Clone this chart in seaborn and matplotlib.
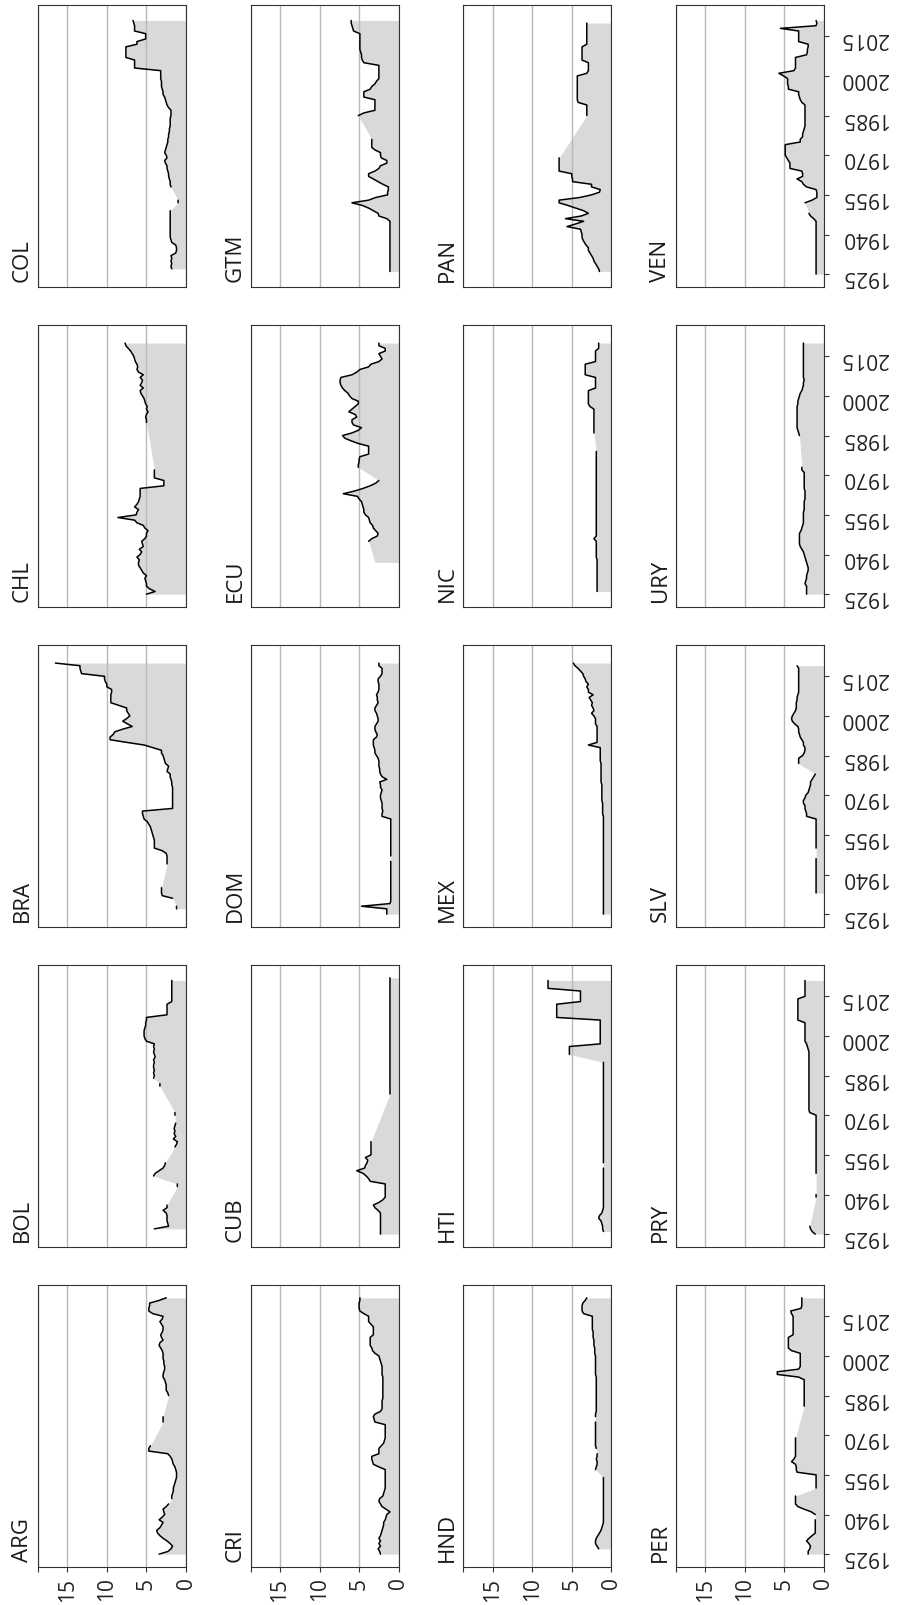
import numpy as np
import pandas as pd
import matplotlib
matplotlib.use("Agg")
import matplotlib.pyplot as plt
import seaborn as sns

# ---------------------------------------------
# data: one value per year 1925..2022 (N = no data)
# ---------------------------------------------
N = np.nan
years = list(range(1925, 2023))

arg = [3.4, 2.3, 1.9, 1.7, 2.0, 2.4, 2.9, 3.3, 3.6, 3.7,
       3.3, 3.1, 2.9, 3.4, 3.0, 2.7, 2.8, 2.9, 2.5, 2.2,
       N, 1.8, 1.8, 1.7, 1.6, 1.6, 1.5, 1.4, 1.3, 1.2,
       1.2, 1.2, 1.3, 1.4, 1.6, 1.7, 1.8, 2.0, 2.3, 4.7,
       4.7, 4.5, N, N, N, N, N, N, N, N,
       2.9, 2.9, 2.9, N, N, N, N, N, N, N,
       2.2, 2.3, 2.5, 2.5, 2.5, 2.6, 2.7, 2.9, 2.9, 2.8,
       2.7, 2.7, 2.8, 2.8, 2.9, 2.9, 2.9, 3.0, 3.2, 3.4,
       3.3, 2.9, 3.1, 3.2, 3.0, 2.9, 2.9, 3.1, 3.3, 3.0,
       2.9, 4.2, 4.7, 4.7, 4.6, 4.6, 3.4, 2.5]

bol = [N, N, 4.0, 2.2, 2.3, 2.4, 2.4, 2.4, 2.5, 2.9,
       2.4, 2.4, N, N, N, N, N, N, 1.1, 1.1,
       N, N, 4.1, 3.9, 3.4, 2.9, 2.7, 2.6, N, N,
       N, N, N, 1.4, 1.2, 1.1, 1.6, 1.3, 1.5, 1.4,
       1.5, 1.4, 1.3, N, N, 1.4, 1.4, N, N, N,
       N, N, N, N, N, N, 3.3, 3.3, N, 4.1,
       4.0, 4.1, 4.0, 4.1, 4.1, 4.0, 4.1, 3.9, 4.0, 4.1,
       4.0, 4.1, 4.0, 5.0, 5.2, 5.3, 5.3, 5.3, 5.2, 5.1,
       5.1, 5.0, 5.0, 2.4, 2.4, 2.4, 2.4, 2.4, 1.8, 1.8,
       1.8, 1.8, 1.8, 1.8, 1.8, 1.8, 1.8, N]

bra = [N, N, 1.2, 1.2, N, N, 1.7, 3.0, 3.1, 3.1,
       3.1, N, N, N, N, N, N, N, N, 2.4,
       2.4, 2.4, 2.4, 2.5, 3.0, 4.0, 4.0, 4.0, 4.0, 4.1,
       4.2, 4.3, 4.4, 4.5, 4.7, 4.9, 5.3, 5.4, 5.5, 5.5,
       1.7, 1.7, 1.7, 1.7, 1.7, 1.7, 1.7, 1.7, 1.7, 1.8,
       1.8, 1.9, 2.0, 2.0, 2.4, 2.3, 2.2, 2.6, 2.7, 2.8,
       2.9, 3.1, 3.1, 4.2, 5.3, 7.5, 9.6, 9.6, 9.2, 9.0,
       8.0, 6.8, 7.4, 8.0, 7.5, 7.1, 7.3, 7.5, 7.5, 8.5,
       9.5, 9.5, 9.5, 9.5, 9.4, 9.4, 10.0, 10.0, 10.2, 10.3,
       10.3, 13.2, 13.3, 13.4, 13.4, 16.5, N, N]

chl = [5.0, 3.9, 4.6, 5.0, 5.0, 5.1, 5.2, 5.0, 5.4, 5.6,
       5.8, 6.0, 6.0, 5.9, 6.2, 5.8, 5.6, 5.9, 5.4, 5.5,
       5.6, 5.2, 5.0, 5.0, 4.8, 5.2, 5.4, 6.2, 6.5, 8.6,
       6.3, 6.2, 6.0, 6.5, 6.2, 6.0, 5.9, 5.8, 5.8, 5.8,
       5.8, 2.8, 2.8, 2.8, 4.0, 4.0, 4.0, 4.0, N, N,
       N, N, N, N, N, N, N, N, N, N,
       N, N, N, N, N, 5.0, 5.0, 5.1, 5.0, 4.8,
       5.0, 4.9, 5.1, 5.2, 5.3, 5.5, 5.7, 5.8, 5.4, 5.8,
       5.6, 5.5, 5.8, 5.4, 6.0, 6.2, 6.1, 6.2, 6.4, 6.5,
       6.6, 6.8, 7.0, 7.3, 7.6, 7.7, N, N]

col = [N, N, 1.8, 1.9, 1.8, 1.9, 1.8, 1.9, 1.3, 1.2,
       1.2, 1.3, 1.8, 1.9, 2.0, 2.0, 2.0, 2.0, 2.0, 2.0,
       2.0, 2.0, 2.0, 2.0, 2.0, N, N, 1.0, 1.0, N,
       N, N, N, 1.9, 2.0, 2.0, 2.1, 2.2, 2.2, 2.3,
       2.4, 2.4, 2.6, 2.7, 2.4, 2.5, 2.7, 2.6, 2.5, 2.4,
       2.3, 2.3, 2.2, 2.2, 2.1, 2.1, 2.0, 2.0, 2.0, 2.0,
       1.9, 1.9, 1.9, 2.2, 2.4, 2.5, 2.6, 2.7, 2.9, 2.9,
       3.0, 3.1, 3.1, 3.1, 3.2, 3.2, 3.2, 3.2, 6.5, 6.5,
       6.5, 6.5, 7.6, 7.6, 7.6, 7.6, 7.6, 6.2, 6.2, 5.1,
       5.1, 5.1, 6.5, 6.5, 6.5, 6.6, 6.7, N]

cri = [2.3, 2.4, 2.6, 2.3, 2.5, 2.3, 2.5, 2.3, 2.2, 2.1,
       2.0, 1.9, 1.9, 1.7, 1.6, 1.5, 1.1, 1.6, 2.1, 2.3,
       2.5, 2.4, 2.0, 1.9, 1.8, 1.7, 1.7, 1.7, 1.7, 1.7,
       1.7, 1.7, 1.7, 2.5, 3.2, 3.3, 3.4, 3.4, 2.5, 2.5,
       2.5, 2.2, 1.9, 1.8, 1.7, 1.7, 1.7, 1.7, 1.7, 1.7,
       3.0, 3.1, 3.2, 3.0, 2.3, 2.1, 2.1, 2.1, 2.1, 2.0,
       2.0, 2.0, 2.0, 2.0, 2.0, 2.0, 2.0, 2.0, 2.1, 2.1,
       2.1, 2.1, 2.2, 2.3, 2.4, 2.5, 3.0, 3.3, 3.4, 3.6,
       3.6, 3.6, 3.6, 3.2, 3.2, 3.2, 3.2, 3.5, 3.8, 3.8,
       3.8, 4.4, 4.9, 5.0, 5.0, 5.0, 4.9, 4.9]

cub = [2.3, 2.3, 2.3, 2.3, 2.3, 2.3, 2.3, 2.3, 2.3, 2.6,
       3.0, 3.2, 2.5, 2.0, 1.7, 1.7, 1.7, 1.7, 1.7, 1.7,
       3.6, 3.8, 4.1, 4.5, 5.3, 4.3, 4.2, 4.0, 3.9, 4.2,
       3.5, 3.5, 3.5, 3.5, 3.5, 3.5, N, N, N, N,
       N, N, N, N, N, N, N, N, N, N,
       N, N, N, 1.1, 1.1, 1.1, 1.1, 1.1, 1.1, 1.1,
       1.1, 1.1, 1.1, 1.1, 1.1, 1.1, 1.1, 1.1, 1.1, 1.1,
       1.1, 1.1, 1.1, 1.1, 1.1, 1.1, 1.1, 1.1, 1.1, 1.1,
       1.1, 1.1, 1.1, 1.1, 1.1, 1.1, 1.1, 1.1, 1.1, 1.1,
       1.1, 1.1, 1.1, 1.1, 1.1, 1.1, 1.1, 1.1]

dom = [1.5, 1.5, 1.5, 4.7, 1.1, 1.0, 1.0, 1.0, 1.0, 1.0,
       1.0, 1.0, 1.0, 1.0, 1.0, 1.0, 1.0, 1.0, 1.0, 1.0,
       1.0, N, 1.0, 1.0, 1.0, 1.0, 1.0, 1.0, 1.0, 1.0,
       1.0, 1.0, 1.0, 1.0, 1.0, 1.0, 1.0, 2.1, 2.1, 2.0,
       2.1, 2.1, 2.1, 2.2, 2.3, 2.3, 2.2, 2.1, 2.3, 2.3,
       2.4, 1.5, 2.1, 2.3, 2.4, 2.4, 2.5, 2.5, 2.5, 2.6,
       2.8, 3.0, 3.0, 3.1, 3.2, 3.2, 3.2, 2.8, 2.7, 2.9,
       3.0, 3.0, 2.8, 2.6, 2.6, 2.7, 2.8, 3.0, 3.0, 2.8,
       2.6, 2.7, 2.7, 2.8, 2.6, 2.5, 2.5, 2.5, 2.6, 2.6,
       2.3, 2.1, 2.1, 2.1, 2.5, 2.5, N, N]

ecu = [N, N, N, N, N, N, N, N, N, N,
       N, N, 3.0, N, N, N, N, N, N, N,
       3.8, 3.4, 2.7, 2.6, 2.9, 3.2, 3.3, 3.6, 3.7, 3.8,
       4.2, 4.4, 4.4, 4.5, 4.6, 4.7, 5.0, 5.2, 7.0, 5.6,
       4.5, 3.6, 2.9, 2.5, N, N, N, N, 5.1, 5.1,
       5.0, 5.0, 4.9, 3.8, 3.8, 3.8, 3.8, 5.1, 6.0, 6.8,
       7.1, 5.9, 5.1, 4.7, 5.7, 5.9, 5.9, 5.3, 5.5, 6.3,
       5.9, 5.5, 5.1, 5.1, 5.9, 6.2, 6.4, 6.8, 7.1, 7.3,
       7.4, 7.4, 7.3, 5.9, 5.3, 4.9, 3.8, 3.5, 2.5, 2.1,
       2.3, 2.5, 1.7, 1.7, 2.5, 2.5, N, N]

gtm = [N, 1.1, 1.1, 1.1, 1.1, 1.1, 1.1, 1.1, 1.1, 1.1,
       1.1, 1.1, 1.1, 1.1, 1.1, 1.1, 1.1, 1.1, 1.1, 1.1,
       1.1, 1.5, 2.5, 2.6, 3.2, 3.8, 4.6, 5.9, 3.8, 2.9,
       1.4, 1.4, 1.3, 1.3, 2.0, 2.6, 3.2, 3.8, 3.8, 3.0,
       2.5, 2.3, 1.5, 1.5, 2.2, 2.3, 2.3, 3.0, 3.4, 3.4,
       3.4, 3.4, N, N, N, N, N, N, N, N,
       5.1, 4.4, 3.0, 3.0, 3.0, 3.0, 3.0, 4.4, 4.4, 4.4,
       3.6, 3.4, 3.0, 2.8, 2.5, 2.5, 2.5, 2.5, 2.5, 2.5,
       4.4, 4.6, 4.7, 4.7, 4.8, 4.9, 4.9, 4.9, 4.9, 4.9,
       4.9, 4.9, 5.7, 5.8, 5.9, 6.0, 6.0, N]

hnd = [N, N, 1.6, 1.8, 2.0, 2.0, 1.9, 1.7, 1.5, 1.3,
       1.2, 1.1, 1.0, 1.0, 1.0, 1.0, 1.0, 1.0, 1.0, 1.0,
       1.0, 1.0, 1.0, 1.0, 1.0, 1.0, 1.0, 1.0, 1.0, 1.0,
       N, N, 2.0, 1.9, 1.8, 1.8, 1.9, 1.8, 1.8, N,
       1.9, 2.0, 2.0, 2.0, 2.0, 2.0, 2.0, 2.0, 2.0, 2.0,
       2.0, N, 2.0, 2.0, 1.9, 1.9, 1.9, 1.9, 1.9, 1.9,
       1.9, 1.9, 1.9, 1.9, 1.9, 1.9, 1.9, 1.9, 2.0, 2.0,
       2.0, 2.0, 2.0, 2.0, 2.0, 2.0, 2.1, 2.1, 2.1, 2.2,
       2.2, 2.2, 2.3, 2.3, 2.3, 2.4, 2.4, 2.4, 2.4, 2.4,
       2.4, 3.5, 3.7, 3.7, 3.7, 3.6, 3.3, 3.1]

hti = [N, 1.0, 1.1, 1.1, 1.2, 1.3, 1.6, 1.5, 1.2, 1.1,
       1.0, 1.0, 1.0, 1.0, 1.0, 1.0, 1.0, 1.0, 1.0, 1.0,
       1.0, 1.0, 1.0, 1.0, 1.0, 1.0, N, 1.0, 1.0, 1.0,
       1.0, 1.0, 1.0, 1.0, 1.0, 1.0, 1.0, 1.0, 1.0, 1.0,
       1.0, 1.0, 1.0, 1.0, 1.0, 1.0, 1.0, 1.0, 1.0, 1.0,
       1.0, 1.0, 1.0, 1.0, 1.0, 1.0, 1.0, 1.0, 1.0, 1.0,
       1.0, 1.0, 1.0, 1.0, 1.0, 1.0, N, N, 5.3, 5.3,
       5.3, 5.3, 1.4, 1.4, 1.4, 1.4, 1.4, 1.4, 1.4, 1.4,
       1.4, 1.4, 6.9, 6.9, 6.9, 6.9, 6.9, 6.9, 3.9, 3.9,
       3.9, 3.9, 3.9, 8.0, 8.0, 8.0, 8.0, N]

mex = [1.0, 1.0, 1.0, 1.0, 1.0, 1.0, 1.0, 1.0, 1.0, 1.0,
       1.0, 1.0, 1.0, 1.0, 1.0, 1.0, 1.0, 1.0, 1.0, 1.0,
       1.0, 1.0, 1.0, 1.0, 1.0, 1.0, 1.0, 1.0, 1.0, 1.0,
       1.0, 1.0, 1.0, 1.0, 1.0, 1.0, 1.0, 1.0, 1.1, 1.1,
       1.1, 1.1, 1.1, 1.2, 1.2, 1.2, 1.2, 1.2, 1.2, 1.2,
       1.3, 1.3, 1.3, 1.3, 1.3, 1.3, 1.3, 1.3, 1.4, 1.4,
       1.4, 1.4, 1.4, 1.4, 2.9, 1.8, 1.8, 1.8, 1.8, 1.8,
       1.8, 1.8, 2.0, 2.0, 2.0, 2.2, 2.5, 2.2, 2.3, 2.5,
       2.4, 2.6, 2.8, 2.3, 2.9, 2.9, 3.1, 2.9, 3.2, 3.3,
       3.5, 3.6, 3.9, 4.2, 4.6, 4.8, N, N]

nic = [N, 1.8, 1.8, 1.8, 1.8, 1.8, 1.8, 1.8, 1.8, 1.8,
       1.8, 1.8, 1.8, 1.8, 1.9, 1.9, 1.9, 1.9, 1.9, 1.9,
       1.9, 2.2, 1.9, 1.9, 1.9, 1.9, 1.9, 1.9, 1.9, 1.9,
       1.9, 1.9, 1.9, 1.9, 1.9, 1.9, 1.9, 1.9, 1.9, 1.9,
       1.9, 1.9, 1.9, 1.9, 1.9, 1.9, 1.9, 1.9, 1.9, 1.9,
       1.9, 1.9, 1.9, 1.9, 1.9, N, N, N, N, N,
       N, 2.2, 2.2, 2.2, 2.2, 2.2, 2.2, 2.2, 2.2, 2.2,
       2.2, 2.7, 2.9, 2.9, 2.9, 2.9, 2.9, 2.9, 2.0, 2.0,
       2.0, 2.0, 2.0, 3.3, 3.3, 3.3, 3.3, 3.3, 2.0, 2.0,
       2.0, 2.0, 2.0, 1.6, 1.6, 1.6, N, N]

pan = [N, 1.5, 1.6, 1.8, 2.0, 2.2, 2.3, 2.5, 2.7, 2.9,
       2.9, 3.2, 3.4, 3.6, 3.7, 3.7, 3.8, 3.9, 5.6, 4.5,
       3.5, 5.8, 3.8, 2.9, 3.5, 4.5, 5.5, 6.6, 6.6, 4.0,
       2.5, 1.5, 1.4, 2.5, 2.5, 4.9, 4.9, 5.0, 5.0, 6.6,
       6.6, 6.6, 6.6, 6.6, 6.6, N, N, N, N, N,
       N, N, N, N, N, N, N, N, N, N,
       3.1, 3.1, 3.1, 3.1, 3.1, 4.2, 4.3, 4.3, 4.3, 4.3,
       4.3, 4.3, 4.3, 4.3, 4.3, 4.3, 3.1, 2.9, 2.9, 2.9,
       2.9, 3.7, 3.7, 3.7, 3.7, 3.7, 3.7, 3.1, 3.1, 3.1,
       3.1, 3.1, 3.1, 3.1, 3.1, 3.1, N, N]

per = [2.0, 2.0, 1.8, 1.7, 1.9, 2.2, 1.9, 1.5, 1.1, 1.1,
       1.1, 1.1, 1.1, 1.1, N, 1.1, 1.6, 2.5, 3.3, 3.6,
       3.6, 3.6, 3.6, N, N, 1.0, 1.0, 1.0, 1.0, 1.0,
       1.0, 3.4, 3.5, 3.5, 3.6, 4.1, 3.8, 3.6, 3.6, 3.6,
       3.6, 3.6, 3.6, 3.6, 3.6, N, N, N, N, N,
       N, N, N, N, N, N, 2.5, 2.5, 2.5, 2.5,
       2.5, 2.5, 2.5, 2.5, 2.5, 2.5, 2.5, 3.2, 5.9, 5.9,
       3.2, 3.0, 3.0, 3.0, 3.0, 3.0, 3.0, 4.1, 4.5, 4.5,
       4.5, 4.5, 4.5, 3.9, 3.9, 3.9, 3.9, 3.9, 3.9, 3.9,
       3.9, 4.1, 4.2, 2.9, 2.8, 2.8, 2.8, 2.8]

pry = [1.1, 1.5, 1.7, 1.8, N, N, N, N, N, N,
       N, N, N, N, 1.0, 1.0, N, N, N, N,
       N, N, N, 1.0, 1.0, 1.0, 1.0, 1.0, 1.0, 1.0,
       1.0, 1.0, 1.0, 1.0, 1.0, 1.0, 1.0, 1.0, 1.0, 1.0,
       1.0, 1.0, 1.0, 1.0, 1.0, 1.0, 1.8, 1.9, 1.9, 1.9,
       1.9, 1.9, 1.9, 1.9, 1.9, 1.9, 1.9, 1.9, 1.9, 1.9,
       1.9, 1.9, 1.9, 1.9, 1.9, 1.9, 1.9, 1.9, 1.9, 1.9,
       2.0, 2.1, 2.2, 2.4, 2.4, 2.4, 2.4, 2.4, 2.4, 2.4,
       2.4, 3.3, 3.3, 3.3, 3.3, 3.3, 3.3, 3.3, 3.3, 3.3,
       2.4, 2.4, 2.4, 2.4, 2.4, 2.4, 2.4, N]

slv = [N, N, N, N, N, N, N, N, 1.0, 1.0,
       1.0, 1.0, 1.0, 1.0, 1.0, 1.0, 1.0, 1.0, 1.0, 1.0,
       1.0, 1.0, N, N, N, 1.0, 1.0, 1.0, 1.0, 1.0,
       1.0, 1.0, 1.0, 1.0, 1.0, 1.0, 1.0, 2.2, 2.2, 2.3,
       2.4, 2.4, 2.6, 2.6, 2.4, 2.3, 2.0, 1.9, 1.8, 1.7,
       1.7, 1.5, 1.3, 1.1, N, N, N, 3.2, 3.2, 3.2,
       2.7, 2.5, 2.4, 2.4, 2.6, 2.6, 2.8, 3.0, 3.1, 3.2,
       3.2, 3.3, 3.7, 4.0, 4.1, 4.0, 3.8, 3.6, 3.5, 3.5,
       3.5, 3.4, 3.4, 3.3, 3.2, 3.2, 3.2, 3.2, 3.2, 3.2,
       3.2, 3.2, 3.2, 3.2, 3.4, N, N, N]

ury = [2.2, 2.2, 2.2, 2.2, 2.4, 2.3, 2.2, 2.2, 2.1, 2.0,
       2.0, 2.1, 2.2, 2.3, 2.4, 2.5, 2.6, 2.8, 3.0, 3.1,
       3.1, 3.1, 3.1, 3.1, 2.9, 2.8, 2.7, 2.6, 2.6, 2.6,
       2.6, 2.6, 2.5, 2.5, 2.5, 2.5, 2.4, 2.4, 2.4, 2.4,
       2.5, 2.5, 2.5, 2.5, 2.5, 2.5, 2.5, 2.8, 2.8, N,
       N, N, N, N, N, N, N, N, N, N,
       3.1, 3.2, 3.3, 3.4, 3.4, 3.4, 3.4, 3.4, 3.4, 3.4,
       3.4, 3.4, 3.3, 3.3, 3.2, 3.1, 3.0, 2.8, 2.7, 2.6,
       2.6, 2.5, 2.6, 2.6, 2.6, 2.6, 2.6, 2.6, 2.6, 2.6,
       2.6, 2.6, 2.6, 2.6, 2.6, 2.6, N, N]

ven = [1.0, 1.0, 1.0, 1.0, 1.0, 1.0, 1.0, 1.0, 1.0, 1.0,
       1.0, 1.0, 1.0, 1.0, 1.0, 1.0, 1.0, 1.0, 1.0, 1.0,
       1.0, 1.3, 1.7, 1.9, N, N, N, 2.4, 1.5, 0.9,
       0.9, 0.9, 1.0, 2.2, 2.6, 2.8, 3.4, 2.7, 2.7, 2.8,
       4.3, 4.3, 4.3, 4.5, 4.7, 4.9, 4.9, 4.9, 4.9, 4.9,
       3.0, 3.0, 2.7, 2.7, 2.6, 2.5, 2.4, 2.4, 2.4, 2.4,
       2.4, 2.4, 2.4, 2.4, 2.4, 2.8, 3.0, 3.1, 3.2, 3.2,
       4.5, 4.5, 4.6, 4.6, 4.6, 5.1, 5.7, 3.8, 3.6, 3.6,
       3.6, 3.6, 3.6, 2.2, 2.1, 2.1, 2.0, 2.0, 3.2, 3.2,
       3.2, 3.2, 3.2, 5.5, 1.0, 0.9, 1.0, N]

codes = ["ARG", "BOL", "BRA", "CHL", "COL",
         "CRI", "CUB", "DOM", "ECU", "GTM",
         "HND", "HTI", "MEX", "NIC", "PAN",
         "PER", "PRY", "SLV", "URY", "VEN"]
series = [arg, bol, bra, chl, col, cri, cub, dom, ecu, gtm,
          hnd, hti, mex, nic, pan, per, pry, slv, ury, ven]

value_ticks = [0, 5, 10, 15]
year_ticks = [1925, 1940, 1955, 1970, 1985, 2000, 2015]

# ---------------------------------------------
# long table
# ---------------------------------------------
df = pd.concat([pd.DataFrame({"country": c, "year": years, "value": v})
                for c, v in zip(codes, series)], ignore_index=True)

# the chart is a 4x5 small-multiple turned a quarter turn:
# grid column = original row, grid row (top->bottom) = original column reversed
order = [codes[c * 5 + (4 - r)] for r in range(5) for c in range(4)]

FILL = "#d9d9d9"
GRID = "#b8b8b8"
EDGE = "#333333"
XMAX = 18.7
YLO, YHI = 1920.15, 2026.85

sns.set_style("white")
plt.rcParams["font.family"] = ["Open Sans", "DejaVu Sans"]


def draw_panel(data, **kws):
    ax = plt.gca()
    d = data.sort_values("year")
    ok = d.dropna(subset=["value"])
    ax.fill_betweenx(ok["year"], 0, ok["value"], color=FILL, lw=0, zorder=1)
    ax.plot(d["value"], d["year"], color="black", lw=1.1, zorder=3)


g = sns.FacetGrid(df, col="country", col_wrap=4, col_order=order,
                  sharex=False, sharey=False, height=2.82, aspect=148 / 282,
                  despine=False)
g.map_dataframe(draw_panel)
g.set_titles("")
g.set_axis_labels("", "")

for i, ax in enumerate(g.axes.flat):
    r, c = divmod(i, 4)
    name = order[i]
    ax.set_xlim(XMAX, 0)
    ax.set_ylim(YLO, YHI)
    ax.set_axisbelow("line")
    ax.set_xticks(value_ticks + [XMAX], labels=[str(t) for t in value_ticks] + [""])
    ax.set_yticks(year_ticks, labels=[str(t) for t in year_ticks])
    ax.grid(axis="x", color=GRID, lw=1.0)
    ax.grid(axis="y", visible=False)
    for s in ax.spines.values():
        s.set_color(EDGE)
        s.set_linewidth(0.8)

    bottom = r == 4
    right = c == 3
    ax.tick_params(axis="x", bottom=bottom, top=False, labelbottom=bottom,
                   length=3.6, width=0.8, color=EDGE, labelsize=15,
                   labelcolor="#222222", labelrotation=90, pad=4)
    if right:
        ax.yaxis.set_ticks_position("right")
    ax.tick_params(axis="y", left=False, right=right, labelleft=False,
                   labelright=right, length=3.6, width=0.8, color=EDGE,
                   labelsize=15, labelcolor="#222222", labelrotation=180, pad=8)

    ax.text(-0.035, 0.018, name, transform=ax.transAxes, rotation=90,
            ha="right", va="bottom", fontsize=16, color="#1a1a1a")

g.figure.set_size_inches(8.97, 16.05)
g.figure.subplots_adjust(left=0.0424, right=0.9186, bottom=0.0237, top=0.9969,
                         wspace=0.437, hspace=0.1348)
g.figure.savefig("out.png", dpi=100, facecolor="white")
